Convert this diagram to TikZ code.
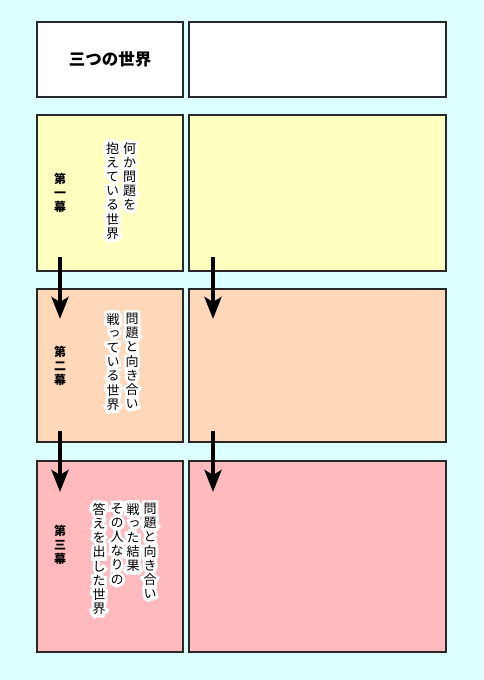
\documentclass[tikz,border=0pt]{standalone}
\usepackage{fontspec}
\newfontfamily\jpfont{Noto Sans CJK JP}
\newfontfamily\jpvert[RawFeature=+vert]{Noto Sans CJK JP}
\newfontfamily\jphalo[RawFeature=+vert, FakeBold=45]{Noto Sans CJK JP}
\usetikzlibrary{arrows.meta, positioning}
\definecolor{cSky}{RGB}{220,255,255}
\definecolor{cAct1}{RGB}{255,255,192}
\definecolor{cAct2}{RGB}{255,216,186}
\definecolor{cAct3}{RGB}{255,186,190}
\definecolor{cFrame}{RGB}{40,40,40}
\tikzset{
  panel/.style={rectangle, draw=cFrame, line width=1.3pt, anchor=north west,
                inner sep=0pt, outer sep=0pt},
  leftpanel/.style={panel, minimum width=146pt},
  rightpanel/.style={panel, minimum width=257pt},
  titlenode/.style={font=\jpfont\bfseries\fontsize{16.5}{18}\selectfont},
  actnode/.style={font=\jpvert\bfseries\fontsize{12}{14}\selectfont,
                  align=center, inner sep=0pt},
  tatenode/.style={font=\jpvert\fontsize{13}{14.2}\selectfont,
                   align=center, anchor=north, inner sep=0pt},
  halonode/.style={tatenode, font=\jphalo\fontsize{13}{14.2}\selectfont,
                   text=white},
  flowarrow/.style={-{Stealth[length=22pt, width=17pt, inset=5pt]},
                    line width=4.5pt, color=black}
}
% vertical column with a white halo: name, x, y, lines
\newcommand{\tatecol}[4]{%
  \node[halonode] at (#2,#3) {#4};
  \node[tatenode] (#1) at (#2,#3) {#4};
}

\begin{document}
\begin{tikzpicture}[x=1pt, y=-1pt]
  \fill[cSky] (0,0) rectangle (483,680);
  \useasboundingbox (0,0) rectangle (483,680);

  % Title row
  \node[leftpanel, fill=white, minimum height=75pt] (title) at (37,22) {};
  \node[rightpanel, fill=white, minimum height=75pt] (titleR) at (189,22) {};
  \node[titlenode] at (title.center) {三つの世界};

  % Act panels
  \node[leftpanel, fill=cAct1, minimum height=156pt] (act1) at (37,115) {};
  \node[rightpanel, fill=cAct1, minimum height=156pt] (act1R) at (189,115) {};
  \node[leftpanel, fill=cAct2, minimum height=153pt] (act2) at (37,289) {};
  \node[rightpanel, fill=cAct2, minimum height=153pt] (act2R) at (189,289) {};
  \node[leftpanel, fill=cAct3, minimum height=191pt] (act3) at (37,461) {};
  \node[rightpanel, fill=cAct3, minimum height=191pt] (act3R) at (189,461) {};

  % Act labels
  \node[actnode] (lbl1) at (60,193) {第\\一\\幕};
  \node[actnode] (lbl2) at (60,366) {第\\二\\幕};
  \node[actnode] (lbl3) at (60,545) {第\\三\\幕};

  % Act one text
  \tatecol{t1a}{129.5}{142}{何\\か\\問\\題\\を}
  \tatecol{t1b}{112.5}{142}{抱\\え\\て\\い\\る\\世\\界}

  % Act two text
  \tatecol{t2a}{132}{313}{問\\題\\と\\向\\き\\合\\い}
  \tatecol{t2b}{113}{313}{戦\\っ\\て\\い\\る\\世\\界}

  % Act three text
  \tatecol{t3a}{150}{503}{問\\題\\と\\向\\き\\合\\い}
  \tatecol{t3b}{133}{503}{戦\\っ\\た\\結\\果}
  \tatecol{t3c}{117}{503}{そ\\の\\人\\な\\り\\の}
  \tatecol{t3d}{99}{503}{答\\え\\を\\出\\し\\た\\世\\界}

  % Arrows
  \foreach \x/\s in {60/L, 213/R} {
    \coordinate (a1\s) at (\x,257);
    \coordinate (b1\s) at (\x,319);
    \coordinate (a2\s) at (\x,431);
    \coordinate (b2\s) at (\x,492);
    \draw[flowarrow] (a1\s) -- (b1\s);
    \draw[flowarrow] (a2\s) -- (b2\s);
  }
\end{tikzpicture}
\end{document}
